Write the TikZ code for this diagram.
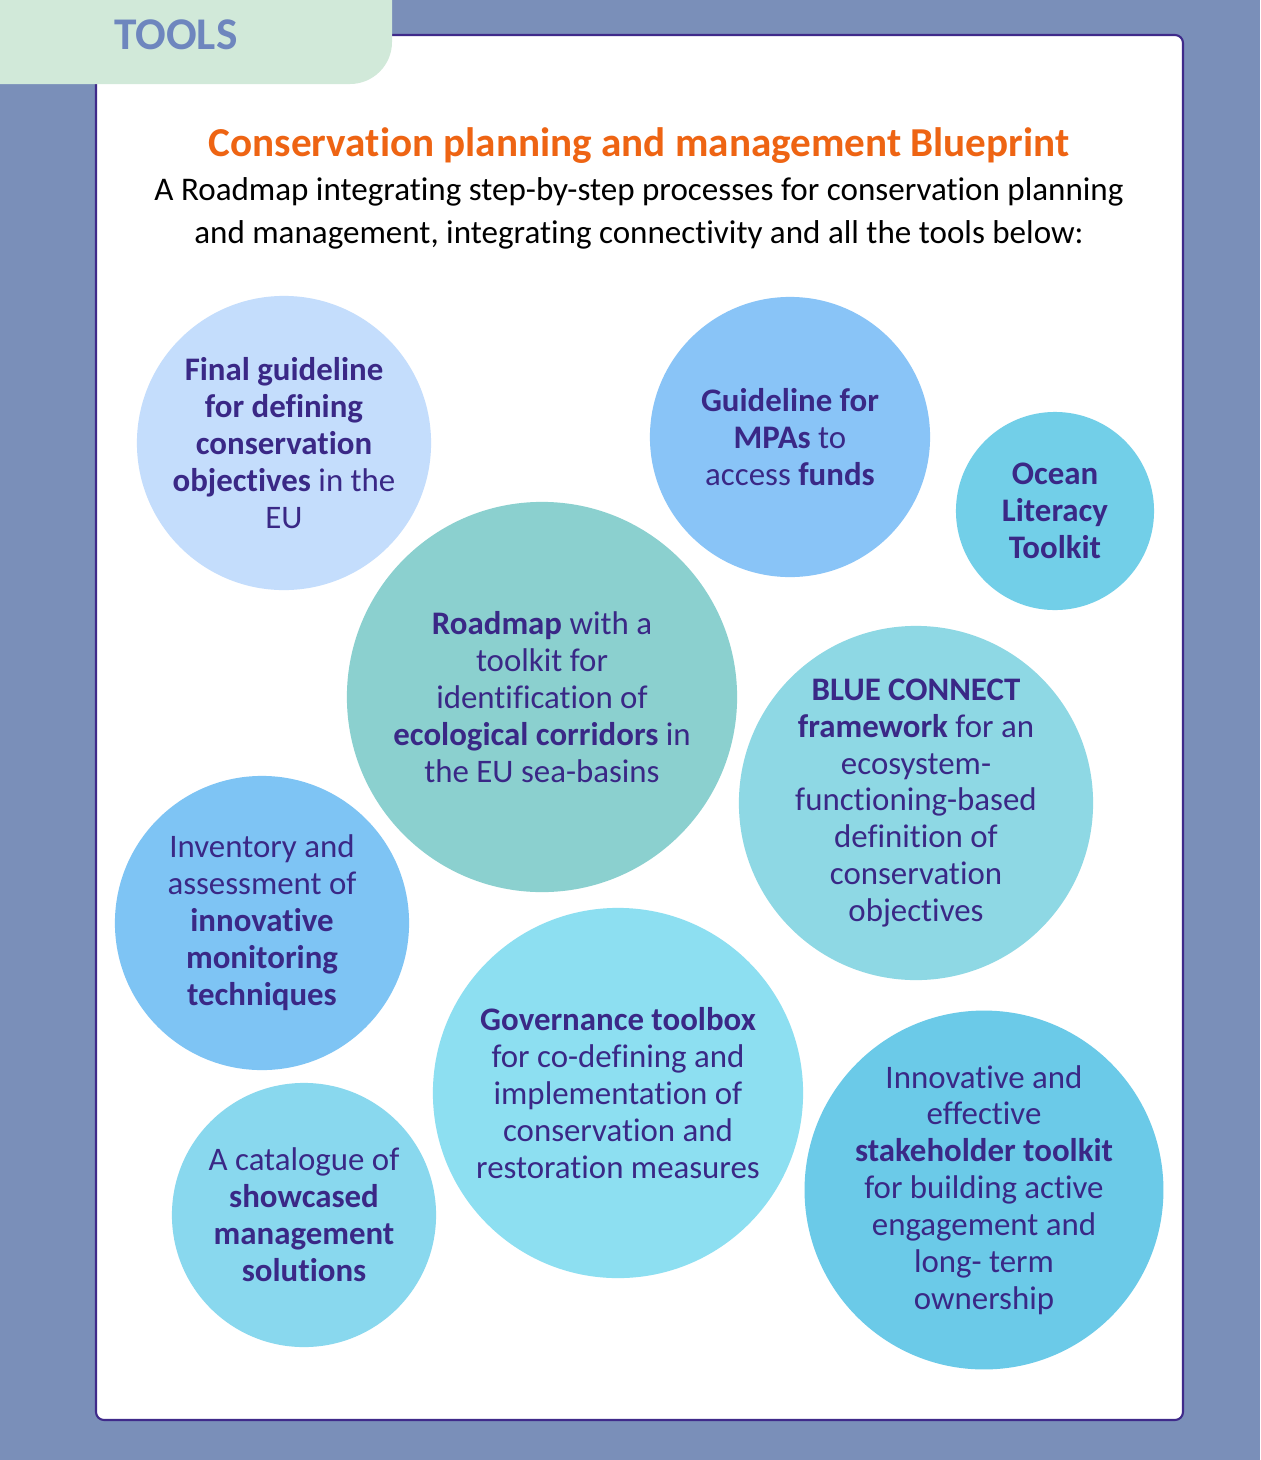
\documentclass[tikz,border=0pt]{standalone}
\usepackage{fontspec}
\setmainfont{Carlito}[Ligatures=NoCommon]
\usetikzlibrary{positioning}
\definecolor{pagebg}{HTML}{7A8FB9}
\definecolor{tabgreen}{HTML}{D1E9D9}
\definecolor{tabtext}{HTML}{6E86BE}
\definecolor{rim}{HTML}{3F2A8A}
\definecolor{ink}{HTML}{3A2886}
\definecolor{headline}{HTML}{EE6413}
\definecolor{cA}{HTML}{C4DDFC}
\definecolor{cB}{HTML}{89C4F7}
\definecolor{cC}{HTML}{72CFE8}
\definecolor{cD}{HTML}{8BD0CF}
\definecolor{cE}{HTML}{8ED8E4}
\definecolor{cF}{HTML}{7EC4F4}
\definecolor{cG}{HTML}{8DDFF1}
\definecolor{cH}{HTML}{89D8EE}
\definecolor{cI}{HTML}{6BCAE8}
\tikzset{
  bubble/.style={circle, inner sep=0pt, align=center, text=ink,
    font=\fontsize{9.35}{10.5}\selectfont},
}

\begin{document}
\begin{tikzpicture}[x=0.01cm,y=-0.01cm]
  \useasboundingbox (0,0) rectangle (1260,1460);
  \clip (0,0) rectangle (1260,1460);
  \fill[pagebg] (0,0) rectangle (1260,1460);
  % white panel
  \draw[rim, line width=0.6pt, fill=white, rounded corners=0.08cm] (96,35) rectangle (1183,1420);
  % tab
  \fill[tabgreen, rounded corners=0.42cm] (-60,-60) rectangle (392,84);
  \node[text=tabtext, font=\fontsize{12.9}{14}\selectfont\bfseries] (tab) at (176,35) {TOOLS};
  % heading
  \node[text=headline, font=\fontsize{11.7}{13}\selectfont\bfseries] (title) at (639,146) {Conservation planning and management Blueprint};
  \node[align=center, font=\fontsize{9.4}{12.3}\selectfont] (sub) at (639,213)
    {A Roadmap integrating step-by-step processes for conservation planning\\
     and management, integrating connectivity and all the tools below:};
  % the tools
  \node[bubble, fill=cA, minimum size=2.94cm] (guide) at (284,443)
    {\textbf{Final guideline}\\\textbf{for defining}\\\textbf{conservation}\\\textbf{objectives} in the\\EU};
  \node[bubble, fill=cB, minimum size=2.80cm] (mpa) at (790,437)
    {\textbf{Guideline for}\\\textbf{MPAs} to\\access \textbf{funds}};
  \node[bubble, fill=cC, minimum size=1.98cm] (ocean) at (1055,511)
    {\textbf{Ocean}\\\textbf{Literacy}\\\textbf{Toolkit}};
  \node[bubble, fill=cD, minimum size=3.90cm] (road) at (542,697)
    {\textbf{Roadmap} with a\\toolkit for\\identification of\\\textbf{ecological corridors} in\\the EU sea-basins};
  \node[bubble, fill=cE, minimum size=3.54cm] (blue) at (916,803)
    {\textbf{BLUE CONNECT}\\\textbf{framework} for an\\ecosystem-\\functioning-based\\definition of\\conservation\\objectives};
  \node[bubble, fill=cF, minimum size=2.94cm] (inv) at (262,923)
    {Inventory and\\assessment of\\\textbf{innovative}\\\textbf{monitoring}\\\textbf{techniques}};
  \node[bubble, fill=cG, minimum size=3.70cm] (gov) at (618,1093)
    {\textbf{Governance toolbox}\\for co-defining and\\implementation of\\conservation and\\restoration measures};
  \node[bubble, fill=cH, minimum size=2.64cm] (cat) at (304,1215)
    {A catalogue of\\\textbf{showcased}\\\textbf{management}\\\textbf{solutions}};
  \node[bubble, fill=cI, minimum size=3.56cm] (stake) at (984,1190)
    {Innovative and\\effective\\\textbf{stakeholder toolkit}\\for building active\\engagement and\\long- term\\ownership};
\end{tikzpicture}
\end{document}
